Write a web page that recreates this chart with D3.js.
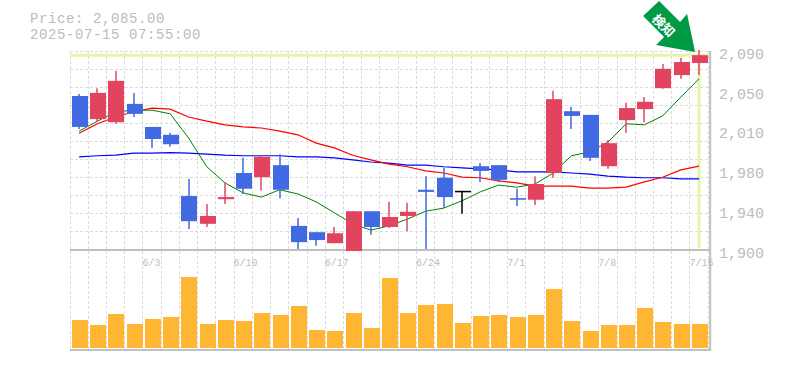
<!DOCTYPE html>
<html>
<head>
<meta charset="utf-8">
<script src="https://cdn.jsdelivr.net/npm/d3@7"></script>
<style>
  html, body { margin: 0; padding: 0; background: #fff; }
  text { font-family: "Liberation Mono", monospace; fill: #bcbcbc; }
</style>
</head>
<body>
<div id="chart"></div>
<script>
const dates = ["5/28","5/29","5/30","6/2","6/3","6/4","6/5","6/6","6/9","6/10","6/11","6/12","6/13","6/16","6/17","6/18","6/19","6/20","6/23","6/24","6/25","6/26","6/27","6/30","7/1","7/2","7/3","7/4","7/7","7/8","7/9","7/10","7/11","7/14","7/15"];
const tickDates = ["6/3","6/10","6/17","6/24","7/1","7/8","7/15"];

const opens  = [2047,2025,2022,2039.5,2017.5,2010,1951.5,1925,1948.5,1973.5,1969.5,1981,1923,1917,1906.5,1899,1937,1922,1932.5,1957.5,1969,1956.5,1980,1981,1949.5,1948,1973.5,2032.5,2029,1980,2024,2034.5,2054.5,2067,2078.5];
const highs  = [2049,2054.5,2071,2050,2017.5,2012,1968,1944,1965,1988,1990.5,1991.5,1930.5,1917,1922,1937,1937,1946,1945,1970.5,1978.5,1956.5,1983,1981,1958.5,1970.5,2052,2036.5,2029,2005,2040.5,2046,2077.5,2083.5,2091];
const lows   = [2015.5,2022.5,2020.5,2027,1997.5,1998.5,1920,1922,1944,1953.5,1956.5,1949.5,1901,1904,1906.5,1899,1914.5,1921,1918,1901,1940,1934.5,1965,1965,1942,1943,1969,2015.5,1985,1977.5,2012,2022,2054,2063.5,2067];
const closes = [2017.5,2050,2061.5,2030,2006,2001,1927.5,1932.5,1950.5,1958.5,1989,1957.5,1907.5,1909.5,1916,1937,1922,1931.5,1936.5,1955.5,1950.5,1956.5,1975.5,1967,1948,1963,2044,2028,1988,2002,2035.5,2041.5,2073,2079.5,2086];

const maShort = [2013.5,2023,2032,2033.5,2033.5,2030,2007,1979.5,1964,1954.5,1950.5,1957.5,1953.5,1946,1935.5,1925,1919,1923,1929.5,1937,1940,1947,1955.5,1962,1960,1963,1973.5,1990,1993.5,2003,2020.5,2019.5,2028,2046,2063.5];
const maMid   = [2011.5,2020.5,2027,2032,2035.5,2034.5,2027,2023,2019.5,2017.5,2016.5,2013.5,2010,2002,1997.5,1990.5,1986,1982,1979.5,1975.5,1973.5,1969.5,1969,1966,1964,1961,1961,1961,1959,1959,1960,1965,1969.5,1976.5,1980];
const maLong  = [1989,1990,1990.5,1992.5,1992.5,1993,1992.5,1991.5,1990.5,1990,1990,1990,1989,1989,1988,1986,1984,1983,1981,1981,1979.5,1978.5,1977.5,1976.5,1974.5,1974.5,1974.5,1973.5,1972.5,1970.5,1969.5,1969,1969,1968,1968];

const volumes = [84,69,102,72,87,93,213,72,84,81,105,99,126,54,51,105,60,210,105,129,132,75,96,99,93,99,177,81,51,69,69,120,78,72,72];

const priceTicks = [1900,1938,1976,2014,2052,2090];

const w = 785, h = 370;
const plotLeft = 70, plotRight = 708.2, plotTop = 51, mainBottom = 250, volBottom = 348, volFrame = 350;

const svg = d3.select("#chart").append("svg")
  .attr("width", w).attr("height", h)
  .style("display", "block");

const xScale = d3.scaleBand().domain(dates).range([plotLeft, plotRight]);
const yScale = d3.scaleLinear().domain([1900, 2090]).range([mainBottom, plotTop]);
const volScale = d3.scaleLinear().domain([0, 240]).range([volBottom, volBottom - 80]);

const mid = d => xScale(d) + xScale.bandwidth() / 2;
const px = v => Math.floor(v) + 0.5;

// grid
const grid = svg.append("g")
  .attr("stroke", "#dcdcdc")
  .attr("stroke-dasharray", "3,2")
  .attr("fill", "none");

grid.selectAll("line.v")
  .data(dates.concat("end"))
  .join("line")
    .attr("class", "v")
    .attr("x1", d => d === "end" ? px(plotRight) : px(xScale(d)))
    .attr("x2", d => d === "end" ? px(plotRight) : px(xScale(d)))
    .attr("y1", plotTop).attr("y2", volFrame);

grid.selectAll("line.h")
  .data(d3.range(1, 12))
  .join("line")
    .attr("class", "h")
    .attr("x1", plotLeft).attr("x2", plotRight + 2)
    .attr("y1", i => px(yScale(1900 + i * 190 / 11)))
    .attr("y2", i => px(yScale(1900 + i * 190 / 11)));

// last price highlight
const lastDate = dates[dates.length - 1];
const lastClose = closes[closes.length - 1];
const hi = svg.append("g").attr("stroke", "#e3f5a6").attr("stroke-width", 3);
hi.append("line")
  .attr("x1", plotLeft).attr("x2", plotRight + 2)
  .attr("y1", yScale(lastClose)).attr("y2", yScale(lastClose));
hi.append("line")
  .attr("x1", mid(lastDate)).attr("x2", mid(lastDate))
  .attr("y1", yScale(lastClose)).attr("y2", mainBottom - 2);

// frame
const frame = svg.append("g").attr("stroke", "#c0c0c0").attr("stroke-width", 2);
frame.append("line").attr("x1", plotLeft).attr("x2", plotRight + 2.8).attr("y1", mainBottom).attr("y2", mainBottom);
frame.append("line").attr("x1", plotLeft).attr("x2", plotRight + 2.8).attr("y1", volFrame).attr("y2", volFrame);
frame.append("line").attr("x1", plotRight + 2).attr("x2", plotRight + 2).attr("y1", plotTop).attr("y2", volFrame + 1);

// volume
svg.selectAll("rect.vol")
  .data(dates)
  .join("rect")
    .attr("class", "vol")
    .attr("x", d => Math.round(xScale(d) + 2))
    .attr("width", 16)
    .attr("y", (d, i) => volScale(volumes[i]))
    .attr("height", (d, i) => volBottom - volScale(volumes[i]))
    .attr("fill", "#ffb733");

// moving averages
const maLine = d3.line()
  .x((d, i) => mid(dates[i]))
  .y(d => yScale(d));

[[maLong, "#0000ff", 1.2], [maMid, "#ff0000", 1.2], [maShort, "#008000", 1]].forEach(([vals, color, sw]) => {
  svg.append("path")
    .attr("d", maLine(vals))
    .attr("fill", "none")
    .attr("stroke", color)
    .attr("stroke-width", sw);
});

// candles
const candleColor = i => closes[i] > opens[i] ? "#e2445f" : closes[i] < opens[i] ? "#4169e1" : "#000000";

const candles = svg.selectAll("g.candle")
  .data(dates)
  .join("g")
    .attr("class", "candle");

candles.append("line")
  .attr("x1", d => Math.round(mid(d)))
  .attr("x2", d => Math.round(mid(d)))
  .attr("y1", (d, i) => yScale(highs[i]))
  .attr("y2", (d, i) => yScale(lows[i]))
  .attr("stroke", (d, i) => candleColor(i))
  .attr("stroke-width", 1.5);

candles.append("rect")
  .attr("x", d => Math.round(xScale(d) + 2))
  .attr("width", 16)
  .attr("y", (d, i) => yScale(Math.max(opens[i], closes[i])))
  .attr("height", (d, i) => Math.max(1.5, Math.abs(yScale(opens[i]) - yScale(closes[i]))))
  .attr("fill", (d, i) => candleColor(i));

// price axis
const yAxis = d3.axisRight(yScale)
  .tickValues(priceTicks)
  .tickSize(0)
  .tickPadding(0)
  .tickFormat(d => d3.format(",")(Math.round(d / 10) * 10));

svg.append("g")
  .attr("transform", "translate(719, 2.5)")
  .call(yAxis)
  .call(g => g.select(".domain").remove())
  .call(g => g.selectAll(".tick text")
    .style("font-size", "15px")
    .style("font-family", "'Liberation Mono', monospace")
    .style("fill", "#bcbcbc"));

// date axis, labels start at the left edge of their slot
const xAxis = d3.axisBottom(xScale)
  .tickValues(tickDates)
  .tickSize(0)
  .tickPadding(0);

svg.append("g")
  .attr("transform", "translate(0, 259)")
  .call(xAxis)
  .call(g => g.select(".domain").remove())
  .call(g => g.selectAll(".tick text")
    .attr("text-anchor", "start")
    .attr("x", -xScale.bandwidth() / 2 - 0.5)
    .style("font-size", "10px")
    .style("font-family", "'Liberation Mono', monospace")
    .style("fill", "#bcbcbc"));

// header
svg.append("text").attr("x", 30).attr("y", 22.5).style("font-size", "14px").style("letter-spacing", "0.6px").text("Price: 2,085.00");
svg.append("text").attr("x", 30).attr("y", 38.5).style("font-size", "14px").style("letter-spacing", "0.6px").text("2025-07-15 07:55:00");

// arrow marker, placed from the last candle's high
const arrow = svg.append("g")
  .attr("transform", "translate(" + mid(lastDate) + "," + yScale(highs[highs.length - 1]) + ")");

arrow.append("path")
  .attr("d", "M-4,2 L-43,-5 L-35,-13 L-56,-34 L-40,-49 L-19,-28 L-12,-36 Z")
  .attr("fill", "#009944");

arrow.append("text")
  .attr("transform", "translate(-35,-25) rotate(45)")
  .attr("text-anchor", "middle")
  .attr("dominant-baseline", "central")
  .style("font-family", "'Noto Sans CJK JP', sans-serif")
  .style("font-size", "13px")
  .style("font-weight", "bold")
  .style("fill", "#ffffff")
  .text("検知");
</script>
</body>
</html>
